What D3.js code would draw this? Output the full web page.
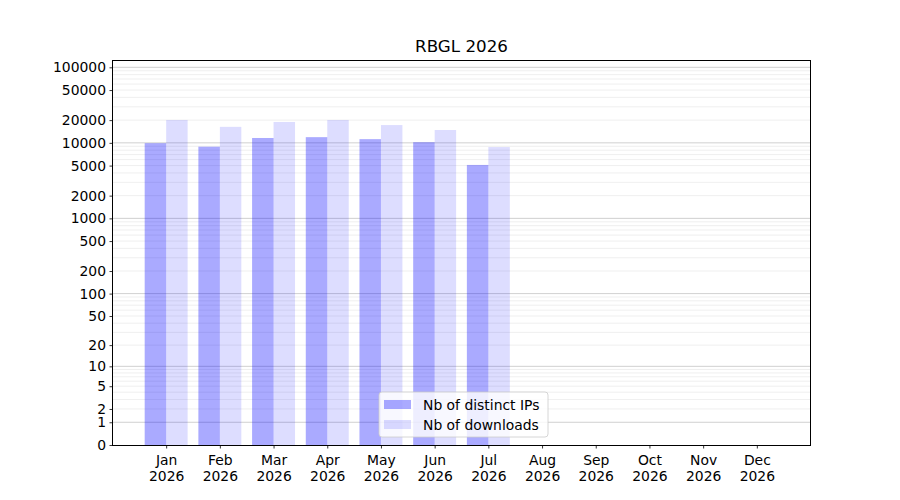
<!DOCTYPE html>
<html>
<head>
<meta charset="utf-8">
<script src="https://cdn.jsdelivr.net/npm/d3@7"></script>
<style>
  body { margin: 0; background: #fff; }
  svg { font-family: "DejaVu Sans", sans-serif; }
</style>
</head>
<body>
<div id="chart"></div>
<script>
// Monthly stats
const months = ['Jan', 'Feb', 'Mar', 'Apr', 'May', 'Jun', 'Jul', 'Aug', 'Sep', 'Oct', 'Nov', 'Dec'];
const year = '2026';
const distinctIPs = [9900, 8900, 11600, 11900, 11200, 10200, 5100, 0, 0, 0, 0, 0];
const downloads = [20100, 16300, 18900, 20100, 17200, 14800, 8800, 0, 0, 0, 0, 0];
const yTicks = [0, 1, 2, 5, 10, 20, 50, 100, 200, 500, 1000, 2000, 5000, 10000, 20000, 50000, 100000];
const seriesNames = ['Nb of distinct IPs', 'Nb of downloads'];

const width = 900, height = 500;
const margin = { top: 60, right: 90, bottom: 55, left: 113 };
const innerW = width - margin.left - margin.right;
const innerH = height - margin.top - margin.bottom;
const fontSize = 13.9;

const svg = d3.select('#chart').append('svg')
  .attr('width', width)
  .attr('height', height);

const g = svg.append('g')
  .attr('transform', `translate(${margin.left},${margin.top})`);

// x: bar positions in month units, with matplotlib-like 5% margins
const x = d3.scaleLinear().domain([-0.99, 11.99]).range([0, innerW]);
const y = d3.scaleSymlog().constant(1).domain([0, 125000]).range([innerH, 0]);
const barW = 0.4;

// Grid: major at decades, minor at 2..9 of each decade
const major = [1, 10, 100, 1000, 10000, 100000];
const minor = [];
major.slice(0, -1).forEach(d => {
  for (let k = 2; k <= 9; k++) minor.push(d * k);
});

g.append('g').selectAll('line')
  .data(minor)
  .join('line')
  .attr('x1', 0).attr('x2', innerW)
  .attr('y1', d => y(d)).attr('y2', d => y(d))
  .attr('stroke', '#ebebeb')
  .attr('stroke-width', 0.8);

g.append('g').selectAll('line')
  .data(major)
  .join('line')
  .attr('x1', 0).attr('x2', innerW)
  .attr('y1', d => y(d)).attr('y2', d => y(d))
  .attr('stroke', '#c4c4c4')
  .attr('stroke-width', 0.8);

// Bars
g.append('g').selectAll('rect')
  .data(distinctIPs)
  .join('rect')
  .attr('x', (d, i) => x(i - barW))
  .attr('width', x(barW) - x(0))
  .attr('y', d => y(d))
  .attr('height', d => y(0) - y(d))
  .attr('fill', 'blue')
  .attr('fill-opacity', 1 / 3);

g.append('g').selectAll('rect')
  .data(downloads)
  .join('rect')
  .attr('x', (d, i) => x(i))
  .attr('width', x(barW) - x(0))
  .attr('y', d => y(d))
  .attr('height', d => y(0) - y(d))
  .attr('fill', 'blue')
  .attr('fill-opacity', 0.135);

// Axes
const yAxis = g.append('g')
  .call(d3.axisLeft(y).tickValues(yTicks).tickFormat(d3.format('d')).tickSize(3.5).tickPadding(3.5));

const xAxis = g.append('g')
  .attr('transform', `translate(0,${innerH})`)
  .call(d3.axisBottom(x).tickValues(d3.range(12)).tickFormat('').tickSize(3.5));

[yAxis, xAxis].forEach(a => {
  a.select('.domain').remove();
  a.selectAll('line').attr('stroke', '#000').attr('stroke-width', 0.8);
  a.selectAll('text').attr('font-size', fontSize).attr('fill', '#000')
    .attr('font-family', '"DejaVu Sans", sans-serif');
});

xAxis.selectAll('.tick').each(function (d) {
  const t = d3.select(this).append('text')
    .attr('text-anchor', 'middle')
    .attr('font-size', fontSize)
    .attr('fill', '#000')
    .attr('font-family', '"DejaVu Sans", sans-serif');
  t.append('tspan').attr('x', 0).attr('y', 20).text(months[d]);
  t.append('tspan').attr('x', 0).attr('y', 35.5).text(year);
});

// Frame
g.append('rect')
  .attr('x', -0.5).attr('y', 0.5)
  .attr('width', innerW + 0.5).attr('height', innerH)
  .attr('fill', 'none')
  .attr('stroke', '#000')
  .attr('stroke-width', 1)
  .attr('shape-rendering', 'crispEdges');

// Title
svg.append('text')
  .attr('x', margin.left + innerW / 2)
  .attr('y', 52)
  .attr('text-anchor', 'middle')
  .attr('font-size', 16.7)
  .text('RBGL 2026');

// Legend
const legend = svg.append('g').attr('transform', 'translate(379,392)');
legend.append('rect')
  .attr('width', 169).attr('height', 45)
  .attr('rx', 3)
  .attr('fill', '#fff').attr('fill-opacity', 0.8)
  .attr('stroke', '#ccc').attr('stroke-width', 0.8);

const items = legend.selectAll('g.item')
  .data(seriesNames)
  .join('g')
  .attr('class', 'item')
  .attr('transform', (d, i) => `translate(5,${8 + i * 20})`);

items.append('rect')
  .attr('width', 27).attr('height', 9)
  .attr('fill', 'blue')
  .attr('fill-opacity', (d, i) => i === 0 ? 1 / 3 : 0.135);

items.append('text')
  .attr('x', 39).attr('y', 10)
  .attr('font-size', fontSize)
  .text(d => d);
</script>
</body>
</html>
